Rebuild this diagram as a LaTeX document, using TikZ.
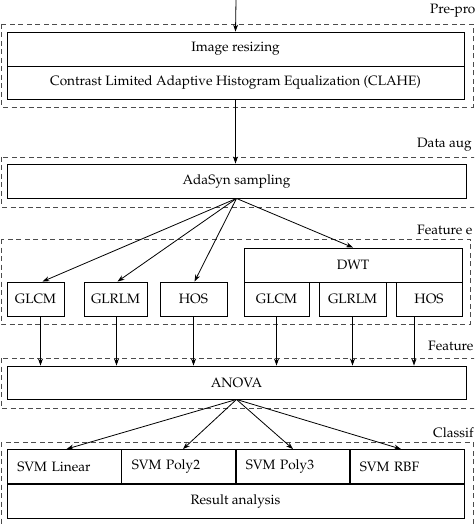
\documentclass[tikz,border=0pt]{standalone}
\usepackage[T1]{fontenc}
\usepackage{mathpazo}
\usetikzlibrary{arrows.meta}
\tikzset{
	box/.style={draw, line width=0.9pt, inner sep=0pt, minimum height=34pt, font=\fontsize{13.6}{15}\selectfont},
	svm/.style={box, inner xsep=10pt, text width=94.5pt, align=left},
	stage/.style={draw=black!70, line width=0.9pt, dash pattern=on 5pt off 3.5pt},
	lbl/.style={anchor=base west, inner sep=0pt, font=\fontsize{13.6}{15}\selectfont},
	arr/.style={line width=0.8pt, -{Stealth[length=7pt,width=5pt]}}
}
\begin{document}
\begin{tikzpicture}[x=1pt, y=-1pt]
	\useasboundingbox (0,0) rectangle (474,526);
	\clip (0,0) rectangle (474,526);
	% stages
	\draw[stage] (1,24) rectangle (473,107);
	\draw[stage] (1,157) rectangle (490,207);
	\draw[stage] (1,239) rectangle (470,324);
	\draw[stage] (1,358) rectangle (490,408);
	\draw[stage] (1,442) rectangle (473,540);
	\node[lbl] (l1) at (430,14) {Pre-pro};
	\node[lbl] (l2) at (417,148) {Data aug};
	\node[lbl] (l3) at (417,234) {Feature e};
	\node[lbl] (l4) at (428,350) {Feature};
	\node[lbl] (l5) at (433,437) {Classif};
	% boxes
	\coordinate (in) at (236,0);
	\node[box, minimum width=457pt] (resize) at (235.5,49) {Image resizing};
	\node[box, minimum width=457pt, minimum height=33pt] (clahe) at (235.5,82.5) {Contrast Limited Adaptive Histogram Equalization (CLAHE)};
	\node[box, minimum width=459pt] (ada) at (236.5,181) {AdaSyn sampling};
	\node[box, minimum width=57pt] (glcm) at (35.5,299) {GLCM};
	\node[box, minimum width=63pt] (glrlm) at (115.5,299) {GLRLM};
	\node[box, minimum width=67pt] (hos) at (193.5,299) {HOS};
	\node[box, minimum width=218pt] (dwt) at (353,265) {DWT};
	\node[box, minimum width=65pt] (dglcm) at (276.5,299) {GLCM};
	\node[box, minimum width=67pt] (dglrlm) at (352.5,299) {GLRLM};
	\node[box, minimum width=66pt] (dhos) at (429,299) {HOS};
	\node[box, minimum width=459pt, minimum height=33pt] (anova) at (236.5,382.5) {ANOVA};
	\node[svm] (lin) at (64.5,466.5) {SVM Linear};
	\node[svm] (p2) at (179,466.5) {\raisebox{2pt}{SVM Poly2}};
	\node[svm] (p3) at (293,466.5) {\raisebox{2pt}{SVM Poly3}};
	\node[svm] (rbf) at (407,466.5) {SVM RBF};
	\node[box, minimum width=457pt] (res) at (235.5,501) {Result analysis};
	% arrows
	\draw[arr] (in) -- (resize.north);
	\draw[arr] (clahe.south) -- (ada.north -| clahe.south);
	\draw[arr] (ada.south) -- ([xshift=7pt]glcm.north);
	\draw[arr] (ada.south) -- ([xshift=2pt]glrlm.north);
	\draw[arr] (ada.south) -- ([xshift=1pt]hos.north);
	\draw[arr] (ada.south) -- (dwt.north);
	\draw[arr] ([xshift=5pt]glcm.south) -- ([xshift=5pt]glcm.south |- anova.north);
	\draw[arr] ([xshift=1pt]glrlm.south) -- ([xshift=1pt]glrlm.south |- anova.north);
	\draw[arr] (hos.south) -- (hos.south |- anova.north);
	\draw[arr] (dglcm.south) -- (dglcm.south |- anova.north);
	\draw[arr] (dglrlm.south) -- (dglrlm.south |- anova.north);
	\draw[arr] ([xshift=-15pt]dhos.south) -- ([xshift=-15pt]dhos.south |- anova.north);
	\draw[arr] (anova.south) -- ([xshift=2pt]lin.north);
	\draw[arr] (anova.south) -- ([xshift=4pt]p2.north);
	\draw[arr] (anova.south) -- (p3.north);
	\draw[arr] (anova.south) -- ([xshift=-6pt]rbf.north);
\end{tikzpicture}
\end{document}
